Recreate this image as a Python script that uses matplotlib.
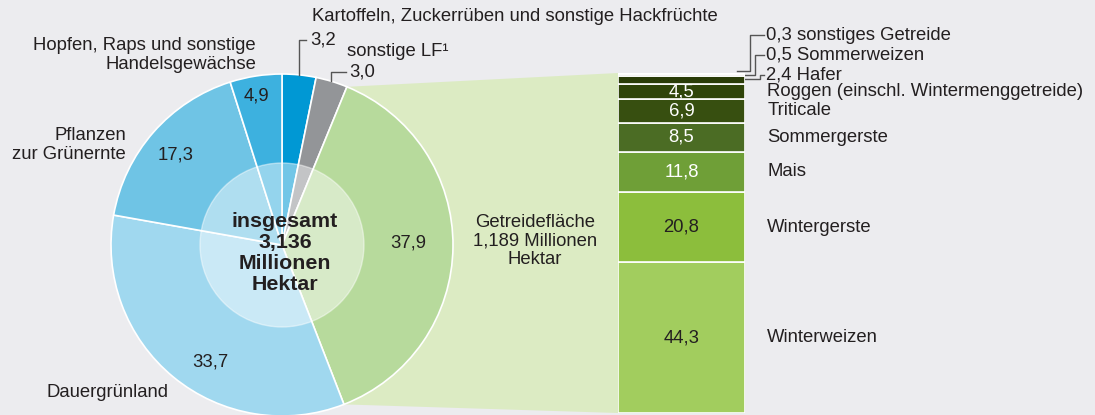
import numpy as np
import matplotlib

matplotlib.use("Agg")
import matplotlib.pyplot as plt  # noqa: E402
from matplotlib.patches import Circle, Polygon  # noqa: E402

plt.rcParams["font.family"] = ["Liberation Sans", "DejaVu Sans"]

# share of total agricultural area (%), clockwise from 12 o'clock
pie_labels = [
    "Kartoffeln, Zuckerrüben und sonstige Hackfrüchte",
    "sonstige LF\u00b9",
    "Getreide",
    "Dauergrünland",
    "Pflanzen\nzur Grünernte",
    "Hopfen, Raps und sonstige\nHandelsgewächse",
]
pie_values = [3.2, 3.0, 37.9, 33.7, 17.3, 4.9]
pie_colors = ["#0098d4", "#939598", "#b7da9c", "#a0d8ef", "#6fc4e5", "#3db1df"]

# share of grain area (%), bottom to top
grain_labels = [
    "Winterweizen", "Wintergerste", "Mais", "Sommergerste", "Triticale",
    "Roggen (einschl. Wintermenggetreide)", "Hafer", "Sommerweizen",
    "sonstiges Getreide",
]
grain_values = [44.3, 20.8, 11.8, 8.5, 6.9, 4.5, 2.4, 0.5, 0.3]
grain_colors = ["#a2cd5e", "#8cbe3c", "#6f9f37", "#4b6c24", "#374f10",
                "#2f4409", "#2a3c08", "#b9bdad", "#d2d3cb"]
grain_text = ["#231f20", "#231f20", "white", "white", "white", "white"]

TEXT = "#231f20"
W, H = 1095, 415
cx, cy, R, R_IN = 282, 170, 171, 82


def fmt(v):
    return f"{v:.1f}".replace(".", ",")


def y(p):
    return H - p


fig = plt.figure(figsize=(W / 100, H / 100), dpi=100, facecolor="#ececef")
ax = fig.add_axes([0, 0, 1, 1])
ax.set_facecolor("#ececef")

# connector from the Getreide wedge to the stacked bar
cum = np.cumsum([0] + pie_values)
a1 = np.radians(90 - 3.6 * cum[2])
a2 = np.radians(90 - 3.6 * cum[3])
bar_left, bar_bottom, bar_top = 618, y(413), y(73)
poly = Polygon(
    [(cx + R * np.cos(a1), cy + R * np.sin(a1)), (bar_left, bar_top),
     (bar_left, bar_bottom), (cx + R * np.cos(a2), cy + R * np.sin(a2)), (cx, cy)],
    closed=True, fc="#dcebc3", ec="none", zorder=0)
ax.add_patch(poly)

ax.pie(pie_values, colors=pie_colors, startangle=90, counterclock=False,
       center=(cx, cy), radius=R,
       wedgeprops=dict(edgecolor="white", linewidth=1.2))
ax.add_patch(Circle((cx, cy), R_IN, fc="white", alpha=0.45, ec="white", lw=1, zorder=5))
ax.set_xlim(0, W)
ax.set_ylim(0, H)
ax.set_aspect("auto")
ax.axis("off")

fs = 13.3
ax.text(285, y(253), "insgesamt\n3,136\nMillionen\nHektar", ha="center", va="center",
        fontsize=15.4, fontweight="bold", color=TEXT, linespacing=1.15, zorder=6)
ax.text(535, y(241), "Getreidefläche\n1,189 Millionen\nHektar", ha="center", va="center",
        fontsize=fs, color=TEXT, linespacing=1.12)

# pie values and category labels
ax.text(312, y(17), pie_labels[0], ha="left", va="center", fontsize=fs, color=TEXT)
ax.text(310, y(40), fmt(pie_values[0]), ha="left", va="center", fontsize=fs, color=TEXT)
ax.plot([299, 299, 306], [y(75), y(40), y(40)], color="#555555", lw=1)
ax.text(347, y(52), pie_labels[1], ha="left", va="center", fontsize=fs, color=TEXT)
ax.text(349, y(72), fmt(pie_values[1]), ha="left", va="center", fontsize=fs, color=TEXT)
ax.plot([331, 331, 346], [y(81), y(72), y(72)], color="#555555", lw=1)
ax.text(408, y(243), fmt(pie_values[2]), ha="center", va="center", fontsize=fs, color=TEXT)
ax.text(210, y(362), fmt(pie_values[3]), ha="center", va="center", fontsize=fs, color=TEXT)
ax.text(46, y(392), pie_labels[3], ha="left", va="center", fontsize=fs, color=TEXT)
ax.text(176, y(155), fmt(pie_values[4]), ha="center", va="center", fontsize=fs, color=TEXT)
ax.text(126, y(145), pie_labels[4], ha="right", va="center", fontsize=fs, color=TEXT,
        linespacing=1.15)
ax.text(256, y(55), pie_labels[5], ha="right", va="center", fontsize=fs, color=TEXT,
        linespacing=1.15)
ax.text(256, y(96), fmt(pie_values[5]), ha="center", va="center", fontsize=fs, color=TEXT)

# stacked bar of grain types
bx = fig.add_axes([bar_left / W, bar_bottom / H, 127 / W, (bar_top - bar_bottom) / H])
bx.set_xlim(0, 1)
bx.set_ylim(0, 100)
bx.axis("off")
bottoms = np.concatenate([[0], np.cumsum(grain_values)[:-1]])
bx.bar(0.5, grain_values, width=1, bottom=bottoms, color=grain_colors,
       edgecolor="white", linewidth=1.2)
for i, (lab, v, b) in enumerate(zip(grain_labels, grain_values, bottoms)):
    mid = b + v / 2
    if i < 6:
        bx.text(0.5, mid, fmt(v), ha="center", va="center", fontsize=fs,
                color=grain_text[i])
        bx.text(1.175, mid, lab, ha="left", va="center", fontsize=fs, color=TEXT,
                clip_on=False)

# leaders for the thin segments at the top
ax.text(766, y(75), f"{fmt(grain_values[6])} {grain_labels[6]}", ha="left",
        va="center", fontsize=fs, color=TEXT)
ax.text(766, y(55), f"{fmt(grain_values[7])} {grain_labels[7]}", ha="left",
        va="center", fontsize=fs, color=TEXT)
ax.text(766, y(35), f"{fmt(grain_values[8])} {grain_labels[8]}", ha="left",
        va="center", fontsize=fs, color=TEXT)
ax.plot([737, 750, 750, 764], [y(71), y(71), y(35), y(35)], color="#555555", lw=1)
ax.plot([745, 755, 755, 764], [y(75), y(75), y(55), y(55)], color="#555555", lw=1)
ax.plot([745, 760, 760, 764], [y(79), y(79), y(75), y(75)], color="#555555", lw=1)

fig.savefig("out.png", dpi=100, facecolor=fig.get_facecolor())
